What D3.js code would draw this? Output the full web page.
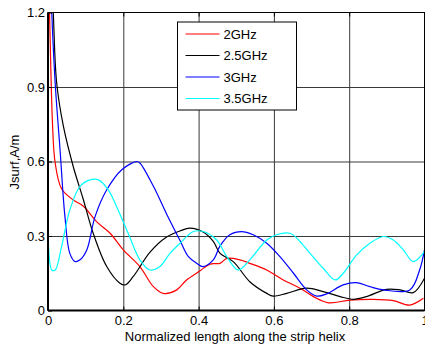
<!DOCTYPE html>
<html>
<head>
<meta charset="utf-8">
<script src="https://cdn.jsdelivr.net/npm/d3@7"></script>
<style>
  html, body { margin: 0; padding: 0; background: #fff; overflow: hidden; }
  svg { display: block; }
</style>
</head>
<body>
<div id="chart"></div>
<script>
// data
const xTicks = [0, 0.2, 0.4, 0.6, 0.8, 1];
const yTicks = [0, 0.3, 0.6, 0.9, 1.2];
const yTickLabels = ['0', '0.3', '0.6', '0.9', '1.2'];

const red2GHz = [
  [0, 1.4], [0.004, 1.2], [0.012, 0.75], [0.019, 0.595], [0.036, 0.49], [0.067, 0.445],
  [0.094, 0.42], [0.129, 0.358], [0.165, 0.311], [0.2, 0.244], [0.244, 0.177],
  [0.28, 0.096], [0.306, 0.069], [0.342, 0.083], [0.368, 0.123], [0.404, 0.16],
  [0.43, 0.187], [0.457, 0.19], [0.475, 0.21], [0.51, 0.204], [0.536, 0.19],
  [0.581, 0.163], [0.625, 0.123], [0.669, 0.09], [0.705, 0.056], [0.745, 0.031],
  [0.802, 0.042], [0.864, 0.045], [0.917, 0.04], [0.961, 0.022], [0.997, 0.049]
];
const black25GHz = [
  [0.008, 1.4], [0.014, 1.2], [0.023, 0.917], [0.041, 0.741], [0.067, 0.58],
  [0.094, 0.446], [0.12, 0.311], [0.156, 0.177], [0.191, 0.11], [0.205, 0.103],
  [0.226, 0.136], [0.271, 0.235], [0.314, 0.295], [0.35, 0.32], [0.377, 0.332],
  [0.412, 0.316], [0.439, 0.278], [0.457, 0.23], [0.492, 0.197], [0.536, 0.116],
  [0.581, 0.069], [0.598, 0.058], [0.634, 0.069], [0.687, 0.09], [0.731, 0.076],
  [0.776, 0.056], [0.811, 0.045], [0.846, 0.056], [0.899, 0.085], [0.935, 0.083],
  [0.97, 0.072], [1.0, 0.13]
];
const blue3GHz = [
  [0.006, 1.4], [0.01, 1.2], [0.019, 0.917], [0.032, 0.647], [0.045, 0.378],
  [0.058, 0.23], [0.072, 0.197], [0.085, 0.204], [0.103, 0.244], [0.125, 0.378],
  [0.156, 0.486], [0.196, 0.567], [0.236, 0.6], [0.244, 0.594], [0.28, 0.5],
  [0.314, 0.392], [0.35, 0.284], [0.373, 0.217], [0.395, 0.19], [0.412, 0.177],
  [0.439, 0.204], [0.457, 0.26], [0.483, 0.305], [0.514, 0.318], [0.545, 0.305],
  [0.581, 0.271], [0.616, 0.217], [0.652, 0.15], [0.687, 0.083], [0.714, 0.058],
  [0.74, 0.067], [0.784, 0.103], [0.82, 0.112], [0.855, 0.096], [0.891, 0.083],
  [0.961, 0.083], [0.987, 0.163], [1.0, 0.244]
];
const cyan35GHz = [
  [0.001, 0.62], [0.01, 0.163], [0.019, 0.163], [0.036, 0.257], [0.058, 0.405],
  [0.085, 0.5], [0.112, 0.526], [0.134, 0.526], [0.16, 0.486], [0.182, 0.419],
  [0.213, 0.311], [0.244, 0.204], [0.271, 0.163], [0.297, 0.177], [0.324, 0.23],
  [0.35, 0.27], [0.386, 0.318], [0.412, 0.318], [0.448, 0.284], [0.475, 0.217],
  [0.505, 0.163], [0.536, 0.204], [0.581, 0.284], [0.607, 0.305], [0.643, 0.311],
  [0.669, 0.278], [0.696, 0.23], [0.731, 0.17], [0.763, 0.123], [0.784, 0.15],
  [0.82, 0.224], [0.855, 0.271], [0.891, 0.298], [0.917, 0.284], [0.944, 0.244],
  [0.97, 0.197], [1.0, 0.237]
];

const SERIES = [
  { label: '2GHz',   color: '#ff0000', values: red2GHz },
  { label: '2.5GHz', color: '#000000', values: black25GHz },
  { label: '3GHz',   color: '#0000ff', values: blue3GHz },
  { label: '3.5GHz', color: '#00ffff', values: cyan35GHz }
];

const FONT = "Arial, 'Liberation Sans', sans-serif";
const W = 425, H = 347;
const margin = { left: 48, top: 12.5, right: 0.5, bottom: 36.5 };
const width = W - margin.left - margin.right;
const height = H - margin.top - margin.bottom;

const svg = d3.select('#chart').append('svg')
  .attr('width', W).attr('height', H)
  .attr('viewBox', `0 0 ${W} ${H}`);

const g = svg.append('g').attr('transform', `translate(${margin.left},${margin.top})`);

const x = d3.scaleLinear().domain([0, 1]).range([0, width]);
const y = d3.scaleLinear().domain([0, 1.2]).range([height, 0]);

// white plot background
g.append('rect').attr('width', width).attr('height', height).attr('fill', '#fff');

// grid
g.append('g')
  .call(d3.axisBottom(x).tickValues(xTicks.slice(1, -1)).tickSize(height).tickFormat(''))
  .call(gr => gr.select('.domain').remove())
  .call(gr => gr.selectAll('line').attr('stroke', '#3a3a3a').attr('stroke-width', 1));
g.append('g')
  .call(d3.axisLeft(y).tickValues(yTicks.slice(1, -1)).tickSize(-width).tickFormat(''))
  .call(gr => gr.select('.domain').remove())
  .call(gr => gr.selectAll('line').attr('stroke', '#3a3a3a').attr('stroke-width', 1));

// clip
svg.append('defs').append('clipPath').attr('id', 'clip')
  .append('rect').attr('width', width).attr('height', height);

const line = d3.line()
  .x(d => x(d[0]))
  .y(d => y(d[1]))
  .curve(d3.curveCatmullRom.alpha(0.5));

const lines = g.append('g').attr('clip-path', 'url(#clip)');
SERIES.forEach(s => {
  lines.append('path')
    .datum(s.values)
    .attr('fill', 'none')
    .attr('stroke', s.color)
    .attr('stroke-width', 1.2)
    .attr('d', line);
});

// box
g.append('rect').attr('width', width).attr('height', height)
  .attr('fill', 'none').attr('stroke', '#000').attr('stroke-width', 1);
g.append('line').attr('x1', 0).attr('x2', 0).attr('y1', 0).attr('y2', height)
  .attr('stroke', '#000').attr('stroke-width', 2);
g.append('line').attr('x1', 0).attr('x2', width).attr('y1', height).attr('y2', height)
  .attr('stroke', '#000').attr('stroke-width', 2);

// axes
const xAxis = g.append('g')
  .attr('transform', `translate(0,${height})`)
  .call(d3.axisBottom(x).tickValues(xTicks).tickSize(-4).tickPadding(5).tickFormat(d3.format('')));
const yAxis = g.append('g')
  .call(d3.axisLeft(y).tickValues(yTicks).tickSize(-4).tickPadding(3)
    .tickFormat((d, i) => yTickLabels[i]));
[xAxis, yAxis].forEach(a => {
  a.select('.domain').remove();
  a.selectAll('line').attr('stroke', '#000');
  a.selectAll('text').style('font-family', FONT).style('font-size', '13px').attr('fill', '#000');
});
// top ticks
g.append('g')
  .call(d3.axisTop(x).tickValues(xTicks).tickSize(-4).tickFormat(''))
  .call(a => a.select('.domain').remove())
  .call(a => a.selectAll('line').attr('stroke', '#000'));

// axis labels
svg.append('text')
  .attr('x', 235).attr('y', 341)
  .attr('text-anchor', 'middle')
  .style('font-family', FONT).style('font-size', '13px')
  .text('Normalized length along the strip helix');
svg.append('text')
  .attr('transform', 'translate(18.5,162) rotate(-90)')
  .attr('text-anchor', 'middle')
  .style('font-family', FONT).style('font-size', '13px')
  .text('Jsurf,A/m');

// legend
const leg = svg.append('g').attr('transform', 'translate(177.5,22)');
leg.append('rect').attr('width', 119).attr('height', 88)
  .attr('fill', '#fff').attr('stroke', '#000').attr('stroke-width', 1);
SERIES.forEach((s, i) => {
  const ly = 12 + i * 21.5;
  leg.append('line').attr('x1', 8).attr('x2', 42).attr('y1', ly).attr('y2', ly)
    .attr('stroke', s.color).attr('stroke-width', 1.2);
  leg.append('text').attr('x', 46).attr('y', ly + 4.5)
    .style('font-family', FONT).style('font-size', '13px')
    .text(s.label);
});
</script>
</body>
</html>
